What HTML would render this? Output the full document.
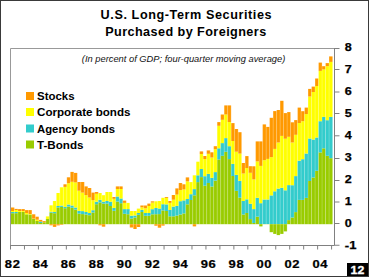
<!DOCTYPE html>
<html><head><meta charset="utf-8"><style>
html,body{margin:0;padding:0;background:#fff;}
body{width:369px;height:277px;overflow:hidden;}
svg{display:block;}
text{font-family:"Liberation Sans",sans-serif;}
</style></head><body>
<svg width="369" height="277" viewBox="0 0 369 277">
<rect x="0" y="0" width="369" height="277" fill="#fff"/>
<g font-weight="bold" font-size="13.6" fill="#000">
<text transform="translate(100.6,18.9) scale(0.93,1)" textLength="183.87" lengthAdjust="spacing">U.S. Long-Term Securities</text>
<text transform="translate(105.2,35.9) scale(0.93,1)" textLength="173.12" lengthAdjust="spacing">Purchased by Foreigners</text>
</g>
<g><rect x="10.90" y="213.20" width="3.50" height="11.00" fill="#99CC00"/><rect x="10.90" y="212.00" width="3.50" height="1.20" fill="#33CCCC"/><rect x="10.90" y="211.00" width="3.50" height="1.00" fill="#FFFF00"/><rect x="10.90" y="207.50" width="3.50" height="3.50" fill="#FF9900"/><rect x="14.40" y="213.20" width="3.50" height="11.00" fill="#99CC00"/><rect x="14.40" y="212.00" width="3.50" height="1.20" fill="#33CCCC"/><rect x="14.40" y="210.00" width="3.50" height="2.00" fill="#FFFF00"/><rect x="14.40" y="208.90" width="3.50" height="1.10" fill="#FF9900"/><rect x="17.89" y="211.90" width="3.50" height="12.30" fill="#99CC00"/><rect x="17.89" y="211.00" width="3.50" height="0.90" fill="#FFFF00"/><rect x="17.89" y="209.10" width="3.50" height="1.90" fill="#FF9900"/><rect x="21.39" y="211.90" width="3.50" height="12.30" fill="#99CC00"/><rect x="21.39" y="211.00" width="3.50" height="0.90" fill="#FFFF00"/><rect x="21.39" y="209.10" width="3.50" height="1.90" fill="#FF9900"/><rect x="24.88" y="214.30" width="3.50" height="9.90" fill="#99CC00"/><rect x="24.88" y="213.00" width="3.50" height="1.30" fill="#FFFF00"/><rect x="24.88" y="210.10" width="3.50" height="2.90" fill="#FF9900"/><rect x="28.38" y="214.50" width="3.50" height="9.70" fill="#99CC00"/><rect x="28.38" y="214.00" width="3.50" height="0.50" fill="#FFFF00"/><rect x="28.38" y="210.10" width="3.50" height="3.90" fill="#FF9900"/><rect x="31.88" y="218.80" width="3.50" height="5.40" fill="#99CC00"/><rect x="31.88" y="218.60" width="3.50" height="0.20" fill="#FFFF00"/><rect x="31.88" y="214.30" width="3.50" height="4.30" fill="#FF9900"/><rect x="35.37" y="221.00" width="3.50" height="3.20" fill="#99CC00"/><rect x="35.37" y="219.70" width="3.50" height="1.30" fill="#FFFF00"/><rect x="35.37" y="216.70" width="3.50" height="3.00" fill="#FF9900"/><rect x="38.87" y="223.00" width="3.50" height="1.20" fill="#99CC00"/><rect x="38.87" y="221.60" width="3.50" height="1.40" fill="#33CCCC"/><rect x="38.87" y="219.90" width="3.50" height="1.70" fill="#FF9900"/><rect x="42.36" y="222.30" width="3.50" height="1.90" fill="#99CC00"/><rect x="42.36" y="221.10" width="3.50" height="1.20" fill="#FF9900"/><rect x="45.86" y="219.00" width="3.50" height="5.20" fill="#99CC00"/><rect x="45.86" y="216.40" width="3.50" height="2.60" fill="#FFFF00"/><rect x="49.36" y="212.60" width="3.50" height="11.60" fill="#99CC00"/><rect x="49.36" y="211.70" width="3.50" height="0.90" fill="#33CCCC"/><rect x="49.36" y="205.30" width="3.50" height="6.40" fill="#FFFF00"/><rect x="49.36" y="224.20" width="3.50" height="1.10" fill="#FF9900"/><rect x="52.85" y="213.20" width="3.50" height="11.00" fill="#99CC00"/><rect x="52.85" y="212.00" width="3.50" height="1.20" fill="#33CCCC"/><rect x="52.85" y="201.00" width="3.50" height="11.00" fill="#FFFF00"/><rect x="52.85" y="224.20" width="3.50" height="2.70" fill="#FF9900"/><rect x="56.35" y="207.40" width="3.50" height="16.80" fill="#99CC00"/><rect x="56.35" y="206.00" width="3.50" height="1.40" fill="#33CCCC"/><rect x="56.35" y="193.00" width="3.50" height="13.00" fill="#FFFF00"/><rect x="56.35" y="224.20" width="3.50" height="1.20" fill="#FF9900"/><rect x="59.84" y="206.90" width="3.50" height="17.30" fill="#99CC00"/><rect x="59.84" y="205.60" width="3.50" height="1.30" fill="#33CCCC"/><rect x="59.84" y="187.30" width="3.50" height="18.30" fill="#FFFF00"/><rect x="59.84" y="224.20" width="3.50" height="0.60" fill="#FF9900"/><rect x="63.34" y="208.20" width="3.50" height="16.00" fill="#99CC00"/><rect x="63.34" y="206.90" width="3.50" height="1.30" fill="#33CCCC"/><rect x="63.34" y="186.90" width="3.50" height="20.00" fill="#FFFF00"/><rect x="63.34" y="184.30" width="3.50" height="2.60" fill="#FF9900"/><rect x="66.84" y="206.50" width="3.50" height="17.70" fill="#99CC00"/><rect x="66.84" y="204.50" width="3.50" height="2.00" fill="#33CCCC"/><rect x="66.84" y="183.20" width="3.50" height="21.30" fill="#FFFF00"/><rect x="66.84" y="177.30" width="3.50" height="5.90" fill="#FF9900"/><rect x="70.33" y="207.70" width="3.50" height="16.50" fill="#99CC00"/><rect x="70.33" y="205.50" width="3.50" height="2.20" fill="#33CCCC"/><rect x="70.33" y="181.80" width="3.50" height="23.70" fill="#FFFF00"/><rect x="70.33" y="171.90" width="3.50" height="9.90" fill="#FF9900"/><rect x="73.83" y="209.50" width="3.50" height="14.70" fill="#99CC00"/><rect x="73.83" y="207.50" width="3.50" height="2.00" fill="#33CCCC"/><rect x="73.83" y="182.40" width="3.50" height="25.10" fill="#FFFF00"/><rect x="73.83" y="172.90" width="3.50" height="9.50" fill="#FF9900"/><rect x="77.32" y="213.60" width="3.50" height="10.60" fill="#99CC00"/><rect x="77.32" y="210.80" width="3.50" height="2.80" fill="#33CCCC"/><rect x="77.32" y="190.70" width="3.50" height="20.10" fill="#FFFF00"/><rect x="77.32" y="182.00" width="3.50" height="8.70" fill="#FF9900"/><rect x="80.82" y="214.10" width="3.50" height="10.10" fill="#99CC00"/><rect x="80.82" y="211.10" width="3.50" height="3.00" fill="#33CCCC"/><rect x="80.82" y="192.60" width="3.50" height="18.50" fill="#FFFF00"/><rect x="80.82" y="182.00" width="3.50" height="10.60" fill="#FF9900"/><rect x="84.32" y="214.50" width="3.50" height="9.70" fill="#99CC00"/><rect x="84.32" y="212.00" width="3.50" height="2.50" fill="#33CCCC"/><rect x="84.32" y="195.10" width="3.50" height="16.90" fill="#FFFF00"/><rect x="84.32" y="186.40" width="3.50" height="8.70" fill="#FF9900"/><rect x="87.81" y="215.20" width="3.50" height="9.00" fill="#99CC00"/><rect x="87.81" y="213.00" width="3.50" height="2.20" fill="#33CCCC"/><rect x="87.81" y="197.50" width="3.50" height="15.50" fill="#FFFF00"/><rect x="87.81" y="188.00" width="3.50" height="9.50" fill="#FF9900"/><rect x="91.31" y="212.50" width="3.50" height="11.70" fill="#99CC00"/><rect x="91.31" y="210.20" width="3.50" height="2.30" fill="#33CCCC"/><rect x="91.31" y="200.20" width="3.50" height="10.00" fill="#FFFF00"/><rect x="91.31" y="192.60" width="3.50" height="7.60" fill="#FF9900"/><rect x="94.80" y="204.20" width="3.50" height="20.00" fill="#99CC00"/><rect x="94.80" y="201.70" width="3.50" height="2.50" fill="#33CCCC"/><rect x="94.80" y="193.80" width="3.50" height="7.90" fill="#FFFF00"/><rect x="94.80" y="192.00" width="3.50" height="1.80" fill="#FF9900"/><rect x="98.30" y="202.40" width="3.50" height="21.80" fill="#99CC00"/><rect x="98.30" y="199.80" width="3.50" height="2.60" fill="#33CCCC"/><rect x="98.30" y="193.00" width="3.50" height="6.80" fill="#FFFF00"/><rect x="98.30" y="224.20" width="3.50" height="1.10" fill="#FF9900"/><rect x="101.80" y="203.60" width="3.50" height="20.60" fill="#99CC00"/><rect x="101.80" y="201.70" width="3.50" height="1.90" fill="#33CCCC"/><rect x="101.80" y="195.20" width="3.50" height="6.50" fill="#FFFF00"/><rect x="101.80" y="224.20" width="3.50" height="2.50" fill="#FF9900"/><rect x="105.29" y="203.60" width="3.50" height="20.60" fill="#99CC00"/><rect x="105.29" y="201.00" width="3.50" height="2.60" fill="#33CCCC"/><rect x="105.29" y="192.00" width="3.50" height="9.00" fill="#FFFF00"/><rect x="108.79" y="206.00" width="3.50" height="18.20" fill="#99CC00"/><rect x="108.79" y="201.70" width="3.50" height="4.30" fill="#33CCCC"/><rect x="108.79" y="192.00" width="3.50" height="9.70" fill="#FFFF00"/><rect x="112.28" y="210.80" width="3.50" height="13.40" fill="#99CC00"/><rect x="112.28" y="207.90" width="3.50" height="2.90" fill="#33CCCC"/><rect x="112.28" y="198.80" width="3.50" height="9.10" fill="#FFFF00"/><rect x="112.28" y="197.00" width="3.50" height="1.80" fill="#FF9900"/><rect x="115.78" y="201.50" width="3.50" height="22.70" fill="#99CC00"/><rect x="115.78" y="196.50" width="3.50" height="5.00" fill="#33CCCC"/><rect x="115.78" y="189.00" width="3.50" height="7.50" fill="#FFFF00"/><rect x="115.78" y="186.40" width="3.50" height="2.60" fill="#FF9900"/><rect x="119.28" y="203.20" width="3.50" height="21.00" fill="#99CC00"/><rect x="119.28" y="198.50" width="3.50" height="4.70" fill="#33CCCC"/><rect x="119.28" y="189.00" width="3.50" height="9.50" fill="#FFFF00"/><rect x="119.28" y="186.40" width="3.50" height="2.60" fill="#FF9900"/><rect x="122.77" y="213.80" width="3.50" height="10.40" fill="#99CC00"/><rect x="122.77" y="209.10" width="3.50" height="4.70" fill="#33CCCC"/><rect x="122.77" y="202.90" width="3.50" height="6.20" fill="#FFFF00"/><rect x="122.77" y="200.60" width="3.50" height="2.30" fill="#FF9900"/><rect x="126.27" y="214.20" width="3.50" height="10.00" fill="#99CC00"/><rect x="126.27" y="209.10" width="3.50" height="5.10" fill="#33CCCC"/><rect x="126.27" y="202.90" width="3.50" height="6.20" fill="#FFFF00"/><rect x="129.76" y="218.50" width="3.50" height="5.70" fill="#99CC00"/><rect x="129.76" y="215.70" width="3.50" height="2.80" fill="#33CCCC"/><rect x="129.76" y="211.00" width="3.50" height="4.70" fill="#FFFF00"/><rect x="129.76" y="224.20" width="3.50" height="3.30" fill="#FF9900"/><rect x="133.26" y="217.50" width="3.50" height="6.70" fill="#99CC00"/><rect x="133.26" y="215.50" width="3.50" height="2.00" fill="#33CCCC"/><rect x="133.26" y="211.00" width="3.50" height="4.50" fill="#FFFF00"/><rect x="133.26" y="224.20" width="3.50" height="4.80" fill="#FF9900"/><rect x="136.76" y="214.80" width="3.50" height="9.40" fill="#99CC00"/><rect x="136.76" y="213.00" width="3.50" height="1.80" fill="#33CCCC"/><rect x="136.76" y="208.60" width="3.50" height="4.40" fill="#FFFF00"/><rect x="136.76" y="224.20" width="3.50" height="2.80" fill="#FF9900"/><rect x="140.25" y="212.00" width="3.50" height="12.20" fill="#99CC00"/><rect x="140.25" y="209.80" width="3.50" height="2.20" fill="#33CCCC"/><rect x="140.25" y="207.30" width="3.50" height="2.50" fill="#FFFF00"/><rect x="140.25" y="205.50" width="3.50" height="1.80" fill="#FF9900"/><rect x="143.75" y="215.80" width="3.50" height="8.40" fill="#99CC00"/><rect x="143.75" y="213.00" width="3.50" height="2.80" fill="#33CCCC"/><rect x="143.75" y="208.30" width="3.50" height="4.70" fill="#FFFF00"/><rect x="143.75" y="205.50" width="3.50" height="2.80" fill="#FF9900"/><rect x="147.24" y="215.80" width="3.50" height="8.40" fill="#99CC00"/><rect x="147.24" y="213.00" width="3.50" height="2.80" fill="#33CCCC"/><rect x="147.24" y="206.00" width="3.50" height="7.00" fill="#FFFF00"/><rect x="147.24" y="203.60" width="3.50" height="2.40" fill="#FF9900"/><rect x="150.74" y="214.30" width="3.50" height="9.90" fill="#99CC00"/><rect x="150.74" y="209.20" width="3.50" height="5.10" fill="#33CCCC"/><rect x="150.74" y="202.60" width="3.50" height="6.60" fill="#FFFF00"/><rect x="150.74" y="201.30" width="3.50" height="1.30" fill="#FF9900"/><rect x="154.24" y="214.20" width="3.50" height="10.00" fill="#99CC00"/><rect x="154.24" y="208.00" width="3.50" height="6.20" fill="#33CCCC"/><rect x="154.24" y="201.30" width="3.50" height="6.70" fill="#FFFF00"/><rect x="154.24" y="224.20" width="3.50" height="1.50" fill="#FF9900"/><rect x="157.73" y="214.10" width="3.50" height="10.10" fill="#99CC00"/><rect x="157.73" y="208.50" width="3.50" height="5.60" fill="#33CCCC"/><rect x="157.73" y="201.00" width="3.50" height="7.50" fill="#FFFF00"/><rect x="157.73" y="224.20" width="3.50" height="3.50" fill="#FF9900"/><rect x="161.23" y="210.40" width="3.50" height="13.80" fill="#99CC00"/><rect x="161.23" y="204.20" width="3.50" height="6.20" fill="#33CCCC"/><rect x="161.23" y="197.80" width="3.50" height="6.40" fill="#FFFF00"/><rect x="161.23" y="224.20" width="3.50" height="1.40" fill="#FF9900"/><rect x="164.72" y="211.00" width="3.50" height="13.20" fill="#99CC00"/><rect x="164.72" y="204.40" width="3.50" height="6.60" fill="#33CCCC"/><rect x="164.72" y="198.00" width="3.50" height="6.40" fill="#FFFF00"/><rect x="164.72" y="197.10" width="3.50" height="0.90" fill="#FF9900"/><rect x="168.22" y="216.30" width="3.50" height="7.90" fill="#99CC00"/><rect x="168.22" y="210.00" width="3.50" height="6.30" fill="#33CCCC"/><rect x="168.22" y="202.90" width="3.50" height="7.10" fill="#FFFF00"/><rect x="168.22" y="201.00" width="3.50" height="1.90" fill="#FF9900"/><rect x="171.72" y="216.30" width="3.50" height="7.90" fill="#99CC00"/><rect x="171.72" y="206.60" width="3.50" height="9.70" fill="#33CCCC"/><rect x="171.72" y="199.70" width="3.50" height="6.90" fill="#FFFF00"/><rect x="171.72" y="195.00" width="3.50" height="4.70" fill="#FF9900"/><rect x="175.21" y="215.60" width="3.50" height="8.60" fill="#99CC00"/><rect x="175.21" y="205.90" width="3.50" height="9.70" fill="#33CCCC"/><rect x="175.21" y="194.60" width="3.50" height="11.30" fill="#FFFF00"/><rect x="175.21" y="188.40" width="3.50" height="6.20" fill="#FF9900"/><rect x="178.71" y="214.50" width="3.50" height="9.70" fill="#99CC00"/><rect x="178.71" y="201.20" width="3.50" height="13.30" fill="#33CCCC"/><rect x="178.71" y="190.10" width="3.50" height="11.10" fill="#FFFF00"/><rect x="178.71" y="183.00" width="3.50" height="7.10" fill="#FF9900"/><rect x="182.20" y="213.40" width="3.50" height="10.80" fill="#99CC00"/><rect x="182.20" y="200.40" width="3.50" height="13.00" fill="#33CCCC"/><rect x="182.20" y="189.40" width="3.50" height="11.00" fill="#FFFF00"/><rect x="182.20" y="184.30" width="3.50" height="5.10" fill="#FF9900"/><rect x="185.70" y="204.30" width="3.50" height="19.90" fill="#99CC00"/><rect x="185.70" y="199.00" width="3.50" height="5.30" fill="#33CCCC"/><rect x="185.70" y="181.30" width="3.50" height="17.70" fill="#FFFF00"/><rect x="185.70" y="177.40" width="3.50" height="3.90" fill="#FF9900"/><rect x="189.20" y="200.00" width="3.50" height="24.20" fill="#99CC00"/><rect x="189.20" y="194.20" width="3.50" height="5.80" fill="#33CCCC"/><rect x="189.20" y="182.10" width="3.50" height="12.10" fill="#FFFF00"/><rect x="192.69" y="195.30" width="3.50" height="28.90" fill="#99CC00"/><rect x="192.69" y="189.10" width="3.50" height="6.20" fill="#33CCCC"/><rect x="192.69" y="175.30" width="3.50" height="13.80" fill="#FFFF00"/><rect x="192.69" y="224.20" width="3.50" height="2.20" fill="#FF9900"/><rect x="196.19" y="182.10" width="3.50" height="42.10" fill="#99CC00"/><rect x="196.19" y="175.30" width="3.50" height="6.80" fill="#33CCCC"/><rect x="196.19" y="161.70" width="3.50" height="13.60" fill="#FFFF00"/><rect x="199.68" y="177.10" width="3.50" height="47.10" fill="#99CC00"/><rect x="199.68" y="169.00" width="3.50" height="8.10" fill="#33CCCC"/><rect x="199.68" y="154.00" width="3.50" height="15.00" fill="#FFFF00"/><rect x="199.68" y="151.40" width="3.50" height="2.60" fill="#FF9900"/><rect x="203.18" y="185.70" width="3.50" height="38.50" fill="#99CC00"/><rect x="203.18" y="176.20" width="3.50" height="9.50" fill="#33CCCC"/><rect x="203.18" y="159.00" width="3.50" height="17.20" fill="#FFFF00"/><rect x="203.18" y="156.00" width="3.50" height="3.00" fill="#FF9900"/><rect x="206.68" y="183.00" width="3.50" height="41.20" fill="#99CC00"/><rect x="206.68" y="173.90" width="3.50" height="9.10" fill="#33CCCC"/><rect x="206.68" y="153.80" width="3.50" height="20.10" fill="#FFFF00"/><rect x="206.68" y="150.40" width="3.50" height="3.40" fill="#FF9900"/><rect x="210.17" y="186.50" width="3.50" height="37.70" fill="#99CC00"/><rect x="210.17" y="177.80" width="3.50" height="8.70" fill="#33CCCC"/><rect x="210.17" y="157.50" width="3.50" height="20.30" fill="#FFFF00"/><rect x="210.17" y="152.30" width="3.50" height="5.20" fill="#FF9900"/><rect x="213.67" y="180.60" width="3.50" height="43.60" fill="#99CC00"/><rect x="213.67" y="172.10" width="3.50" height="8.50" fill="#33CCCC"/><rect x="213.67" y="149.20" width="3.50" height="22.90" fill="#FFFF00"/><rect x="213.67" y="146.20" width="3.50" height="3.00" fill="#FF9900"/><rect x="217.16" y="159.50" width="3.50" height="64.70" fill="#99CC00"/><rect x="217.16" y="148.30" width="3.50" height="11.20" fill="#33CCCC"/><rect x="217.16" y="125.80" width="3.50" height="22.50" fill="#FFFF00"/><rect x="217.16" y="122.10" width="3.50" height="3.70" fill="#FF9900"/><rect x="220.66" y="155.80" width="3.50" height="68.40" fill="#99CC00"/><rect x="220.66" y="143.10" width="3.50" height="12.70" fill="#33CCCC"/><rect x="220.66" y="119.80" width="3.50" height="23.30" fill="#FFFF00"/><rect x="220.66" y="114.50" width="3.50" height="5.30" fill="#FF9900"/><rect x="224.16" y="151.80" width="3.50" height="72.40" fill="#99CC00"/><rect x="224.16" y="138.10" width="3.50" height="13.70" fill="#33CCCC"/><rect x="224.16" y="114.50" width="3.50" height="23.60" fill="#FFFF00"/><rect x="224.16" y="105.40" width="3.50" height="9.10" fill="#FF9900"/><rect x="227.65" y="159.10" width="3.50" height="65.10" fill="#99CC00"/><rect x="227.65" y="146.20" width="3.50" height="12.90" fill="#33CCCC"/><rect x="227.65" y="122.00" width="3.50" height="24.20" fill="#FFFF00"/><rect x="227.65" y="105.40" width="3.50" height="16.60" fill="#FF9900"/><rect x="231.15" y="176.00" width="3.50" height="48.20" fill="#99CC00"/><rect x="231.15" y="163.90" width="3.50" height="12.10" fill="#33CCCC"/><rect x="231.15" y="141.00" width="3.50" height="22.90" fill="#FFFF00"/><rect x="231.15" y="123.10" width="3.50" height="17.90" fill="#FF9900"/><rect x="234.64" y="190.90" width="3.50" height="33.30" fill="#99CC00"/><rect x="234.64" y="174.90" width="3.50" height="16.00" fill="#33CCCC"/><rect x="234.64" y="151.70" width="3.50" height="23.20" fill="#FFFF00"/><rect x="234.64" y="129.00" width="3.50" height="22.70" fill="#FF9900"/><rect x="238.14" y="197.60" width="3.50" height="26.60" fill="#99CC00"/><rect x="238.14" y="180.90" width="3.50" height="16.70" fill="#33CCCC"/><rect x="238.14" y="153.60" width="3.50" height="27.30" fill="#FFFF00"/><rect x="238.14" y="132.20" width="3.50" height="21.40" fill="#FF9900"/><rect x="241.64" y="214.50" width="3.50" height="9.70" fill="#99CC00"/><rect x="241.64" y="201.00" width="3.50" height="13.50" fill="#33CCCC"/><rect x="241.64" y="173.50" width="3.50" height="27.50" fill="#FFFF00"/><rect x="241.64" y="163.00" width="3.50" height="10.50" fill="#FF9900"/><rect x="245.13" y="213.00" width="3.50" height="11.20" fill="#99CC00"/><rect x="245.13" y="199.30" width="3.50" height="13.70" fill="#33CCCC"/><rect x="245.13" y="168.00" width="3.50" height="31.30" fill="#FFFF00"/><rect x="245.13" y="156.10" width="3.50" height="11.90" fill="#FF9900"/><rect x="248.63" y="219.10" width="3.50" height="5.10" fill="#99CC00"/><rect x="248.63" y="203.70" width="3.50" height="15.40" fill="#33CCCC"/><rect x="248.63" y="172.80" width="3.50" height="30.90" fill="#FFFF00"/><rect x="248.63" y="166.20" width="3.50" height="6.60" fill="#FF9900"/><rect x="252.12" y="223.00" width="3.50" height="1.20" fill="#99CC00"/><rect x="252.12" y="209.10" width="3.50" height="13.90" fill="#33CCCC"/><rect x="252.12" y="179.40" width="3.50" height="29.70" fill="#FFFF00"/><rect x="252.12" y="166.30" width="3.50" height="13.10" fill="#FF9900"/><rect x="255.62" y="216.70" width="3.50" height="7.50" fill="#99CC00"/><rect x="255.62" y="197.80" width="3.50" height="18.90" fill="#33CCCC"/><rect x="255.62" y="161.40" width="3.50" height="36.40" fill="#FFFF00"/><rect x="255.62" y="141.40" width="3.50" height="20.00" fill="#FF9900"/><rect x="259.12" y="224.00" width="3.50" height="0.20" fill="#99CC00"/><rect x="259.12" y="203.20" width="3.50" height="20.80" fill="#33CCCC"/><rect x="259.12" y="165.90" width="3.50" height="37.30" fill="#FFFF00"/><rect x="259.12" y="141.40" width="3.50" height="24.50" fill="#FF9900"/><rect x="259.12" y="224.20" width="3.50" height="2.20" fill="#99CC00"/><rect x="262.61" y="224.00" width="3.50" height="0.20" fill="#99CC00"/><rect x="262.61" y="199.50" width="3.50" height="24.50" fill="#33CCCC"/><rect x="262.61" y="160.20" width="3.50" height="39.30" fill="#FFFF00"/><rect x="262.61" y="124.40" width="3.50" height="35.80" fill="#FF9900"/><rect x="266.11" y="224.00" width="3.50" height="0.20" fill="#99CC00"/><rect x="266.11" y="199.50" width="3.50" height="24.50" fill="#33CCCC"/><rect x="266.11" y="158.90" width="3.50" height="40.60" fill="#FFFF00"/><rect x="266.11" y="126.90" width="3.50" height="32.00" fill="#FF9900"/><rect x="269.60" y="224.00" width="3.50" height="0.20" fill="#99CC00"/><rect x="269.60" y="195.40" width="3.50" height="28.60" fill="#33CCCC"/><rect x="269.60" y="157.10" width="3.50" height="38.30" fill="#FFFF00"/><rect x="269.60" y="117.80" width="3.50" height="39.30" fill="#FF9900"/><rect x="269.60" y="224.20" width="3.50" height="8.00" fill="#99CC00"/><rect x="273.10" y="224.00" width="3.50" height="0.20" fill="#99CC00"/><rect x="273.10" y="191.30" width="3.50" height="32.70" fill="#33CCCC"/><rect x="273.10" y="148.90" width="3.50" height="42.40" fill="#FFFF00"/><rect x="273.10" y="111.10" width="3.50" height="37.80" fill="#FF9900"/><rect x="273.10" y="224.20" width="3.50" height="9.70" fill="#99CC00"/><rect x="276.60" y="224.00" width="3.50" height="0.20" fill="#99CC00"/><rect x="276.60" y="188.60" width="3.50" height="35.40" fill="#33CCCC"/><rect x="276.60" y="142.50" width="3.50" height="46.10" fill="#FFFF00"/><rect x="276.60" y="110.00" width="3.50" height="32.50" fill="#FF9900"/><rect x="276.60" y="224.20" width="3.50" height="10.90" fill="#99CC00"/><rect x="280.09" y="224.00" width="3.50" height="0.20" fill="#99CC00"/><rect x="280.09" y="187.80" width="3.50" height="36.20" fill="#33CCCC"/><rect x="280.09" y="135.90" width="3.50" height="51.90" fill="#FFFF00"/><rect x="280.09" y="100.80" width="3.50" height="35.10" fill="#FF9900"/><rect x="280.09" y="224.20" width="3.50" height="9.70" fill="#99CC00"/><rect x="283.59" y="224.00" width="3.50" height="0.20" fill="#99CC00"/><rect x="283.59" y="190.30" width="3.50" height="33.70" fill="#33CCCC"/><rect x="283.59" y="138.70" width="3.50" height="51.60" fill="#FFFF00"/><rect x="283.59" y="113.10" width="3.50" height="25.60" fill="#FF9900"/><rect x="283.59" y="224.20" width="3.50" height="7.20" fill="#99CC00"/><rect x="287.08" y="220.10" width="3.50" height="4.10" fill="#99CC00"/><rect x="287.08" y="185.10" width="3.50" height="35.00" fill="#33CCCC"/><rect x="287.08" y="136.80" width="3.50" height="48.30" fill="#FFFF00"/><rect x="287.08" y="112.10" width="3.50" height="24.70" fill="#FF9900"/><rect x="290.58" y="217.50" width="3.50" height="6.70" fill="#99CC00"/><rect x="290.58" y="185.20" width="3.50" height="32.30" fill="#33CCCC"/><rect x="290.58" y="142.50" width="3.50" height="42.70" fill="#FFFF00"/><rect x="290.58" y="122.30" width="3.50" height="20.20" fill="#FF9900"/><rect x="294.08" y="212.10" width="3.50" height="12.10" fill="#99CC00"/><rect x="294.08" y="176.10" width="3.50" height="36.00" fill="#33CCCC"/><rect x="294.08" y="134.80" width="3.50" height="41.30" fill="#FFFF00"/><rect x="294.08" y="120.10" width="3.50" height="14.70" fill="#FF9900"/><rect x="297.57" y="199.90" width="3.50" height="24.30" fill="#99CC00"/><rect x="297.57" y="160.70" width="3.50" height="39.20" fill="#33CCCC"/><rect x="297.57" y="123.00" width="3.50" height="37.70" fill="#FFFF00"/><rect x="297.57" y="107.60" width="3.50" height="15.40" fill="#FF9900"/><rect x="301.07" y="199.90" width="3.50" height="24.30" fill="#99CC00"/><rect x="301.07" y="159.20" width="3.50" height="40.70" fill="#33CCCC"/><rect x="301.07" y="121.20" width="3.50" height="38.00" fill="#FFFF00"/><rect x="301.07" y="111.20" width="3.50" height="10.00" fill="#FF9900"/><rect x="304.56" y="197.90" width="3.50" height="26.30" fill="#99CC00"/><rect x="304.56" y="153.50" width="3.50" height="44.40" fill="#33CCCC"/><rect x="304.56" y="114.10" width="3.50" height="39.40" fill="#FFFF00"/><rect x="304.56" y="107.60" width="3.50" height="6.50" fill="#FF9900"/><rect x="308.06" y="181.00" width="3.50" height="43.20" fill="#99CC00"/><rect x="308.06" y="138.50" width="3.50" height="42.50" fill="#33CCCC"/><rect x="308.06" y="96.50" width="3.50" height="42.00" fill="#FFFF00"/><rect x="308.06" y="88.90" width="3.50" height="7.60" fill="#FF9900"/><rect x="311.56" y="177.50" width="3.50" height="46.70" fill="#99CC00"/><rect x="311.56" y="139.50" width="3.50" height="38.00" fill="#33CCCC"/><rect x="311.56" y="92.00" width="3.50" height="47.50" fill="#FFFF00"/><rect x="311.56" y="86.60" width="3.50" height="5.40" fill="#FF9900"/><rect x="315.05" y="170.80" width="3.50" height="53.40" fill="#99CC00"/><rect x="315.05" y="137.50" width="3.50" height="33.30" fill="#33CCCC"/><rect x="315.05" y="86.00" width="3.50" height="51.50" fill="#FFFF00"/><rect x="315.05" y="78.50" width="3.50" height="7.50" fill="#FF9900"/><rect x="318.55" y="152.40" width="3.50" height="71.80" fill="#99CC00"/><rect x="318.55" y="121.20" width="3.50" height="31.20" fill="#33CCCC"/><rect x="318.55" y="70.90" width="3.50" height="50.30" fill="#FFFF00"/><rect x="318.55" y="62.60" width="3.50" height="8.30" fill="#FF9900"/><rect x="322.04" y="148.30" width="3.50" height="75.90" fill="#99CC00"/><rect x="322.04" y="116.90" width="3.50" height="31.40" fill="#33CCCC"/><rect x="322.04" y="69.40" width="3.50" height="47.50" fill="#FFFF00"/><rect x="322.04" y="66.20" width="3.50" height="3.20" fill="#FF9900"/><rect x="325.54" y="155.80" width="3.50" height="68.40" fill="#99CC00"/><rect x="325.54" y="120.20" width="3.50" height="35.60" fill="#33CCCC"/><rect x="325.54" y="66.20" width="3.50" height="54.00" fill="#FFFF00"/><rect x="325.54" y="63.10" width="3.50" height="3.10" fill="#FF9900"/><rect x="329.04" y="158.20" width="3.50" height="66.00" fill="#99CC00"/><rect x="329.04" y="116.90" width="3.50" height="41.30" fill="#33CCCC"/><rect x="329.04" y="61.90" width="3.50" height="55.00" fill="#FFFF00"/><rect x="329.04" y="56.40" width="3.50" height="5.50" fill="#FF9900"/></g>
<g stroke="#ffffff" stroke-opacity="0.35" stroke-width="0.6"><line x1="14.40" y1="50" x2="14.40" y2="240" /><line x1="17.89" y1="50" x2="17.89" y2="240" /><line x1="21.39" y1="50" x2="21.39" y2="240" /><line x1="24.88" y1="50" x2="24.88" y2="240" /><line x1="28.38" y1="50" x2="28.38" y2="240" /><line x1="31.88" y1="50" x2="31.88" y2="240" /><line x1="35.37" y1="50" x2="35.37" y2="240" /><line x1="38.87" y1="50" x2="38.87" y2="240" /><line x1="42.36" y1="50" x2="42.36" y2="240" /><line x1="45.86" y1="50" x2="45.86" y2="240" /><line x1="49.36" y1="50" x2="49.36" y2="240" /><line x1="52.85" y1="50" x2="52.85" y2="240" /><line x1="56.35" y1="50" x2="56.35" y2="240" /><line x1="59.84" y1="50" x2="59.84" y2="240" /><line x1="63.34" y1="50" x2="63.34" y2="240" /><line x1="66.84" y1="50" x2="66.84" y2="240" /><line x1="70.33" y1="50" x2="70.33" y2="240" /><line x1="73.83" y1="50" x2="73.83" y2="240" /><line x1="77.32" y1="50" x2="77.32" y2="240" /><line x1="80.82" y1="50" x2="80.82" y2="240" /><line x1="84.32" y1="50" x2="84.32" y2="240" /><line x1="87.81" y1="50" x2="87.81" y2="240" /><line x1="91.31" y1="50" x2="91.31" y2="240" /><line x1="94.80" y1="50" x2="94.80" y2="240" /><line x1="98.30" y1="50" x2="98.30" y2="240" /><line x1="101.80" y1="50" x2="101.80" y2="240" /><line x1="105.29" y1="50" x2="105.29" y2="240" /><line x1="108.79" y1="50" x2="108.79" y2="240" /><line x1="112.28" y1="50" x2="112.28" y2="240" /><line x1="115.78" y1="50" x2="115.78" y2="240" /><line x1="119.28" y1="50" x2="119.28" y2="240" /><line x1="122.77" y1="50" x2="122.77" y2="240" /><line x1="126.27" y1="50" x2="126.27" y2="240" /><line x1="129.76" y1="50" x2="129.76" y2="240" /><line x1="133.26" y1="50" x2="133.26" y2="240" /><line x1="136.76" y1="50" x2="136.76" y2="240" /><line x1="140.25" y1="50" x2="140.25" y2="240" /><line x1="143.75" y1="50" x2="143.75" y2="240" /><line x1="147.24" y1="50" x2="147.24" y2="240" /><line x1="150.74" y1="50" x2="150.74" y2="240" /><line x1="154.24" y1="50" x2="154.24" y2="240" /><line x1="157.73" y1="50" x2="157.73" y2="240" /><line x1="161.23" y1="50" x2="161.23" y2="240" /><line x1="164.72" y1="50" x2="164.72" y2="240" /><line x1="168.22" y1="50" x2="168.22" y2="240" /><line x1="171.72" y1="50" x2="171.72" y2="240" /><line x1="175.21" y1="50" x2="175.21" y2="240" /><line x1="178.71" y1="50" x2="178.71" y2="240" /><line x1="182.20" y1="50" x2="182.20" y2="240" /><line x1="185.70" y1="50" x2="185.70" y2="240" /><line x1="189.20" y1="50" x2="189.20" y2="240" /><line x1="192.69" y1="50" x2="192.69" y2="240" /><line x1="196.19" y1="50" x2="196.19" y2="240" /><line x1="199.68" y1="50" x2="199.68" y2="240" /><line x1="203.18" y1="50" x2="203.18" y2="240" /><line x1="206.68" y1="50" x2="206.68" y2="240" /><line x1="210.17" y1="50" x2="210.17" y2="240" /><line x1="213.67" y1="50" x2="213.67" y2="240" /><line x1="217.16" y1="50" x2="217.16" y2="240" /><line x1="220.66" y1="50" x2="220.66" y2="240" /><line x1="224.16" y1="50" x2="224.16" y2="240" /><line x1="227.65" y1="50" x2="227.65" y2="240" /><line x1="231.15" y1="50" x2="231.15" y2="240" /><line x1="234.64" y1="50" x2="234.64" y2="240" /><line x1="238.14" y1="50" x2="238.14" y2="240" /><line x1="241.64" y1="50" x2="241.64" y2="240" /><line x1="245.13" y1="50" x2="245.13" y2="240" /><line x1="248.63" y1="50" x2="248.63" y2="240" /><line x1="252.12" y1="50" x2="252.12" y2="240" /><line x1="255.62" y1="50" x2="255.62" y2="240" /><line x1="259.12" y1="50" x2="259.12" y2="240" /><line x1="262.61" y1="50" x2="262.61" y2="240" /><line x1="266.11" y1="50" x2="266.11" y2="240" /><line x1="269.60" y1="50" x2="269.60" y2="240" /><line x1="273.10" y1="50" x2="273.10" y2="240" /><line x1="276.60" y1="50" x2="276.60" y2="240" /><line x1="280.09" y1="50" x2="280.09" y2="240" /><line x1="283.59" y1="50" x2="283.59" y2="240" /><line x1="287.08" y1="50" x2="287.08" y2="240" /><line x1="290.58" y1="50" x2="290.58" y2="240" /><line x1="294.08" y1="50" x2="294.08" y2="240" /><line x1="297.57" y1="50" x2="297.57" y2="240" /><line x1="301.07" y1="50" x2="301.07" y2="240" /><line x1="304.56" y1="50" x2="304.56" y2="240" /><line x1="308.06" y1="50" x2="308.06" y2="240" /><line x1="311.56" y1="50" x2="311.56" y2="240" /><line x1="315.05" y1="50" x2="315.05" y2="240" /><line x1="318.55" y1="50" x2="318.55" y2="240" /><line x1="322.04" y1="50" x2="322.04" y2="240" /><line x1="325.54" y1="50" x2="325.54" y2="240" /><line x1="329.04" y1="50" x2="329.04" y2="240" /></g>
<text x="81.8" y="62" font-size="8.6" font-style="italic" fill="#111" textLength="203.5" lengthAdjust="spacingAndGlyphs">(In percent of GDP; four-quarter moving average)</text>
<g fill="none" stroke="#999" stroke-width="1">
<path d="M10.5 245 V48.5 H334.5"/>
</g>
<g fill="none" stroke="#808080" stroke-width="1">
<path d="M10 245.5 H334.5 V48"/>
</g>
<g stroke="#808080" stroke-width="1"><line x1="10.50" y1="245" x2="10.50" y2="249.5"/><line x1="24.46" y1="245" x2="24.46" y2="249.5"/><line x1="38.42" y1="245" x2="38.42" y2="249.5"/><line x1="52.38" y1="245" x2="52.38" y2="249.5"/><line x1="66.34" y1="245" x2="66.34" y2="249.5"/><line x1="80.30" y1="245" x2="80.30" y2="249.5"/><line x1="94.26" y1="245" x2="94.26" y2="249.5"/><line x1="108.22" y1="245" x2="108.22" y2="249.5"/><line x1="122.18" y1="245" x2="122.18" y2="249.5"/><line x1="136.14" y1="245" x2="136.14" y2="249.5"/><line x1="150.10" y1="245" x2="150.10" y2="249.5"/><line x1="164.06" y1="245" x2="164.06" y2="249.5"/><line x1="178.02" y1="245" x2="178.02" y2="249.5"/><line x1="191.98" y1="245" x2="191.98" y2="249.5"/><line x1="205.94" y1="245" x2="205.94" y2="249.5"/><line x1="219.90" y1="245" x2="219.90" y2="249.5"/><line x1="233.86" y1="245" x2="233.86" y2="249.5"/><line x1="247.82" y1="245" x2="247.82" y2="249.5"/><line x1="261.78" y1="245" x2="261.78" y2="249.5"/><line x1="275.74" y1="245" x2="275.74" y2="249.5"/><line x1="289.70" y1="245" x2="289.70" y2="249.5"/><line x1="303.66" y1="245" x2="303.66" y2="249.5"/><line x1="317.62" y1="245" x2="317.62" y2="249.5"/><line x1="331.58" y1="245" x2="331.58" y2="249.5"/><line x1="334.5" y1="48.50" x2="339.5" y2="48.50"/><line x1="334.5" y1="69.50" x2="339.5" y2="69.50"/><line x1="334.5" y1="92.00" x2="339.5" y2="92.00"/><line x1="334.5" y1="113.50" x2="339.5" y2="113.50"/><line x1="334.5" y1="135.80" x2="339.5" y2="135.80"/><line x1="334.5" y1="158.50" x2="339.5" y2="158.50"/><line x1="334.5" y1="180.50" x2="339.5" y2="180.50"/><line x1="334.5" y1="202.00" x2="339.5" y2="202.00"/><line x1="334.5" y1="223.50" x2="339.5" y2="223.50"/><line x1="334.5" y1="245.25" x2="339.5" y2="245.25"/></g>
<g font-weight="bold" font-size="10.8" fill="#000" stroke="#000" stroke-width="0.25"><text transform="translate(12.65,267.7) scale(1.2,1)" text-anchor="middle" letter-spacing="0.5">82</text><text transform="translate(40.62,267.7) scale(1.2,1)" text-anchor="middle" letter-spacing="0.5">84</text><text transform="translate(68.59,267.7) scale(1.2,1)" text-anchor="middle" letter-spacing="0.5">86</text><text transform="translate(96.55,267.7) scale(1.2,1)" text-anchor="middle" letter-spacing="0.5">88</text><text transform="translate(124.52,267.7) scale(1.2,1)" text-anchor="middle" letter-spacing="0.5">90</text><text transform="translate(152.49,267.7) scale(1.2,1)" text-anchor="middle" letter-spacing="0.5">92</text><text transform="translate(180.46,267.7) scale(1.2,1)" text-anchor="middle" letter-spacing="0.5">94</text><text transform="translate(208.43,267.7) scale(1.2,1)" text-anchor="middle" letter-spacing="0.5">96</text><text transform="translate(236.39,267.7) scale(1.2,1)" text-anchor="middle" letter-spacing="0.5">98</text><text transform="translate(264.36,267.7) scale(1.2,1)" text-anchor="middle" letter-spacing="0.5">00</text><text transform="translate(292.33,267.7) scale(1.2,1)" text-anchor="middle" letter-spacing="0.5">02</text><text transform="translate(320.30,267.7) scale(1.2,1)" text-anchor="middle" letter-spacing="0.5">04</text></g>
<g font-weight="bold" font-size="10.6" fill="#000" stroke="#000" stroke-width="0.25"><text x="344.8" y="51.00" textLength="7.0" lengthAdjust="spacingAndGlyphs">8</text><text x="344.8" y="73.00" textLength="7.0" lengthAdjust="spacingAndGlyphs">7</text><text x="344.8" y="95.00" textLength="7.0" lengthAdjust="spacingAndGlyphs">6</text><text x="344.8" y="117.00" textLength="7.0" lengthAdjust="spacingAndGlyphs">5</text><text x="344.8" y="139.00" textLength="7.0" lengthAdjust="spacingAndGlyphs">4</text><text x="344.8" y="161.00" textLength="7.0" lengthAdjust="spacingAndGlyphs">3</text><text x="344.8" y="183.00" textLength="7.0" lengthAdjust="spacingAndGlyphs">2</text><text x="344.8" y="205.00" textLength="7.0" lengthAdjust="spacingAndGlyphs">1</text><text x="344.8" y="227.00" textLength="7.0" lengthAdjust="spacingAndGlyphs">0</text><text x="344.8" y="249.00" textLength="11.6" lengthAdjust="spacingAndGlyphs">-1</text></g>
<g>
<rect x="26" y="92" width="8" height="8" fill="#FF9900"/>
<rect x="26" y="108" width="8" height="8" fill="#FFFF00"/>
<rect x="26" y="124.5" width="8" height="8" fill="#33CCCC"/>
<rect x="26" y="140.5" width="8" height="8" fill="#99CC00"/>
</g>
<g font-weight="bold" font-size="10.8" fill="#000">
<text x="37" y="99.8" textLength="37.5" lengthAdjust="spacingAndGlyphs">Stocks</text>
<text x="37" y="115.8" textLength="93.5" lengthAdjust="spacingAndGlyphs">Corporate bonds</text>
<text x="37" y="132.8" textLength="78" lengthAdjust="spacingAndGlyphs">Agency bonds</text>
<text x="37" y="148.8" textLength="46.5" lengthAdjust="spacingAndGlyphs">T-Bonds</text>
</g>
<rect x="347" y="263" width="22" height="14" fill="#000"/>
<text transform="translate(357.4,274.4) scale(1.12,1)" font-weight="bold" font-size="11" fill="#fff" stroke="#fff" stroke-width="0.3" text-anchor="middle">12</text>
<rect x="0.5" y="0.5" width="368" height="276" fill="none" stroke="#3a3a3a" stroke-width="1"/>
</svg>
</body></html>
